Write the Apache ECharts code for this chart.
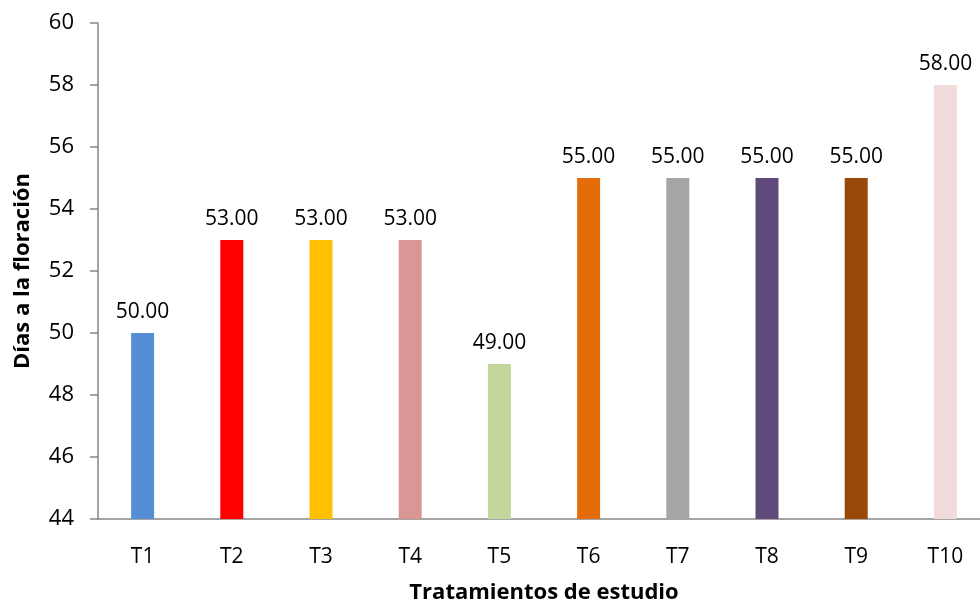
<!DOCTYPE html>
<html>
<head>
<meta charset="utf-8">
<script src="https://cdn.jsdelivr.net/npm/echarts@6/dist/echarts.min.js"></script>
<style>html,body{margin:0;padding:0;background:#fff}#c{width:980px;height:604px}</style>
</head>
<body>
<div id="c"></div>
<script>
const categories = ['T1','T2','T3','T4','T5','T6','T7','T8','T9','T10'];
const values = [50, 53, 53, 53, 49, 55, 55, 55, 55, 58];
const barColors = ['#558ED5','#FF0000','#FFC000','#D99694','#C3D69B','#E46C0A','#A6A6A6','#604A7B','#984807','#F2DCDB'];
const yTicks = { min: 44, max: 60, interval: 2 };
const xTitle = 'Tratamientos de estudio';
const yTitle = 'Días a la floración';

const font = "'Open Sans', sans-serif";
const chart = echarts.init(document.getElementById('c'));
chart.setOption({
  animation: false,
  backgroundColor: '#fff',
  grid: { left: 98, right: -10, top: 23, bottom: 85, containLabel: false, outerBoundsMode: 'none' },
  xAxis: {
    type: 'category',
    data: categories,
    name: xTitle,
    nameLocation: 'middle',
    nameGap: 63,
    nameTextStyle: { fontFamily: font, fontSize: 22, fontWeight: 'bold', color: '#000' },
    axisLine: { lineStyle: { color: '#868686', width: 1.5 } },
    axisTick: { show: false },
    axisLabel: { fontFamily: font, fontSize: 21, color: '#000', margin: 28 }
  },
  yAxis: {
    type: 'value',
    min: yTicks.min, max: yTicks.max, interval: yTicks.interval,
    name: yTitle,
    nameLocation: 'middle',
    nameGap: 64,
    nameRotate: 90,
    nameTextStyle: { fontFamily: font, fontSize: 22, fontWeight: 'bold', color: '#000' },
    axisLine: { show: true, lineStyle: { color: '#868686', width: 1.5 } },
    axisTick: { show: true, length: 8, lineStyle: { color: '#868686', width: 1.5 } },
    splitLine: { show: false },
    axisLabel: { fontFamily: font, fontSize: 22, color: '#000', margin: 24 }
  },
  series: [{
    type: 'bar',
    barWidth: 23,
    data: values.map((v, i) => ({ value: v, itemStyle: { color: barColors[i] } })),
    label: {
      show: true, position: 'top', distance: 10,
      fontFamily: font, fontSize: 21, color: '#000',
      formatter: p => p.value.toFixed(2)
    }
  }]
});
</script>
</body>
</html>
